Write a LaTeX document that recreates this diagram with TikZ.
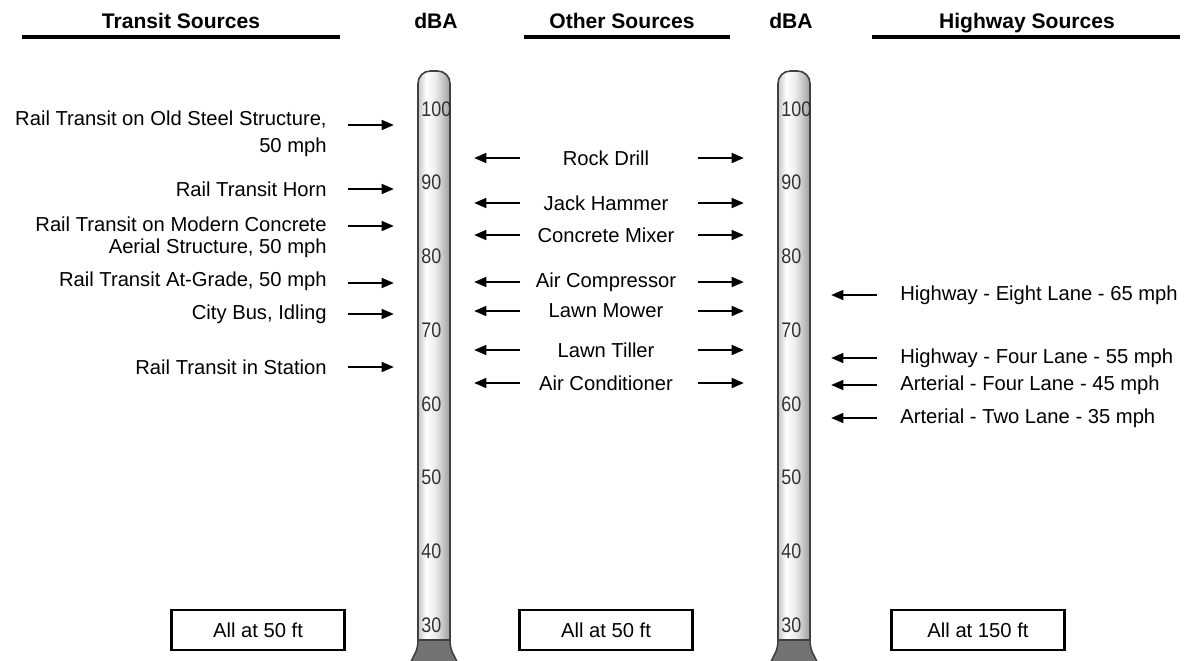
\documentclass[tikz,border=0pt]{standalone}
\usepackage{fontspec}
\setmainfont{Liberation Sans}
\newfontfamily\ticksfont[FakeStretch=0.85]{Liberation Sans}
\usetikzlibrary{arrows.meta}

\pgfdeclarehorizontalshading{tubeshade}{100bp}{color(0bp)=(gray!45); color(25bp)=(gray!45);
	color(38bp)=(white); color(52bp)=(gray!15); color(75bp)=(gray!75); color(100bp)=(gray!75)}

\tikzset{
	src/.style={font=\fontsize{11.5}{12.5}\selectfont, inner sep=0pt},
	hdr/.style={font=\bfseries\fontsize{12}{13}\selectfont, inner sep=0pt, anchor=base},
	hrule/.style={line width=2.8pt},
	ptr/.style={line width=1.4pt, -{Triangle[length=7pt,width=5.5pt]}},
	dbtick/.style={font=\ticksfont\fontsize{12}{13}\selectfont, text=black!80, inner sep=0pt, anchor=west},
	dist/.style={draw, line width=1.2pt, minimum width=3.46cm, minimum height=0.8cm, font=\fontsize{11.5}{13}\selectfont, inner sep=0pt}
}

\begin{document}
\begin{tikzpicture}[x=0.02cm, y=-0.02cm]
	\useasboundingbox (0,0) rectangle (1187,660);

	% headings
	\node[hdr] (trans) at (181,28) {Transit Sources};
	\node[hdr] (other) at (622,28) {Other Sources};
	\node[hdr] (hway) at (1027,28) {Highway Sources};
	\node[hdr] (dba1) at (436,28) {dBA};
	\node[hdr] (dba2) at (791,28) {dBA};
	\draw[hrule] (22,37) -- (340,37);
	\draw[hrule] (524,37) -- (730,37);
	\draw[hrule] (872,37) -- (1180,37);

	% the two scales
	\foreach \cx/\nm in {434/sa, 794/sb} {
		\shadedraw[shading=tubeshade, draw=black!75, line width=0.9pt]
			(\cx-16,640) [rounded corners=7pt] -- (\cx-16,71) -- (\cx+16,71) [sharp corners] -- (\cx+16,640) -- cycle;
		\filldraw[fill=black!55, draw=black!75, line width=0.9pt]
			(\cx-16,640) -- (\cx+16,640) .. controls (\cx+16,652) and (\cx+21,656) .. (\cx+24,664)
			-- (\cx-24,664) .. controls (\cx-21,656) and (\cx-16,652) .. (\cx-16,640) -- cycle;
		\foreach \d in {30,40,...,100}
			\node[dbtick] (\nm\d) at (\cx-13,{109+(100-\d)*7.37}) {\d};
	}

	% transit sources
	\node[src, anchor=east, align=right] (steel) at (327,134) {Rail Transit on Old Steel Structure,\\[3pt] 50 mph};
	\node[src, anchor=east] (horn) at (327,189) {Rail Transit Horn};
	\node[src, anchor=east, align=right] (concr) at (327,237) {Rail Transit on Modern Concrete\\ Aerial Structure, 50 mph};
	\node[src, anchor=east] (grade) at (327,281) {Rail Transit At-Grade, 50 mph};
	\node[src, anchor=east] (bus) at (327,314) {City Bus, Idling};
	\node[src, anchor=east] (stat) at (327,367) {Rail Transit in Station};
	\foreach \y/\nm in {125/steel, 189/horn, 226/concr, 283/grade, 314/bus, 367/stat} {
		\coordinate (\nm-s) at (348,\y);
		\coordinate (\nm-e) at (394,\y);
		\draw[ptr] (\nm-s) -- (\nm-e);
	}

	% other sources
	\node[src] (drill) at (606,158) {Rock Drill};
	\node[src] (jack) at (606,203) {Jack Hammer};
	\node[src] (mixer) at (606,235) {Concrete Mixer};
	\node[src] (compr) at (606,282) {Air Compressor};
	\node[src] (mower) at (606,311) {Lawn Mower};
	\node[src] (tiller) at (606,350) {Lawn Tiller};
	\node[src] (acond) at (606,383) {Air Conditioner};
	\foreach \y/\nm in {158/drill, 203/jack, 235/mixer, 282/compr, 311/mower, 350/tiller, 383/acond} {
		\coordinate (\nm-l) at (520,\y);
		\coordinate (\nm-lt) at (474,\y);
		\coordinate (\nm-r) at (698,\y);
		\coordinate (\nm-rt) at (744,\y);
		\draw[ptr] (\nm-l) -- (\nm-lt);
		\draw[ptr] (\nm-r) -- (\nm-rt);
	}

	% highway sources
	\node[src, anchor=west] (eight) at (900,295) {Highway - Eight Lane - 65 mph};
	\node[src, anchor=west] (four) at (900,358) {Highway - Four Lane - 55 mph};
	\node[src, anchor=west] (art4) at (900,385) {Arterial - Four Lane - 45 mph};
	\node[src, anchor=west] (art2) at (900,418) {Arterial - Two Lane - 35 mph};
	\foreach \y/\nm in {295/eight, 358/four, 385/art4, 418/art2} {
		\coordinate (\nm-s) at (877,\y);
		\coordinate (\nm-e) at (831,\y);
		\draw[ptr] (\nm-s) -- (\nm-e);
	}

	% distances
	\node[dist] (dist1) at (258,630) {All at 50 ft};
	\node[dist] (dist2) at (606,630) {All at 50 ft};
	\node[dist] (dist3) at (978,630) {All at 150 ft};
\end{tikzpicture}
\end{document}
